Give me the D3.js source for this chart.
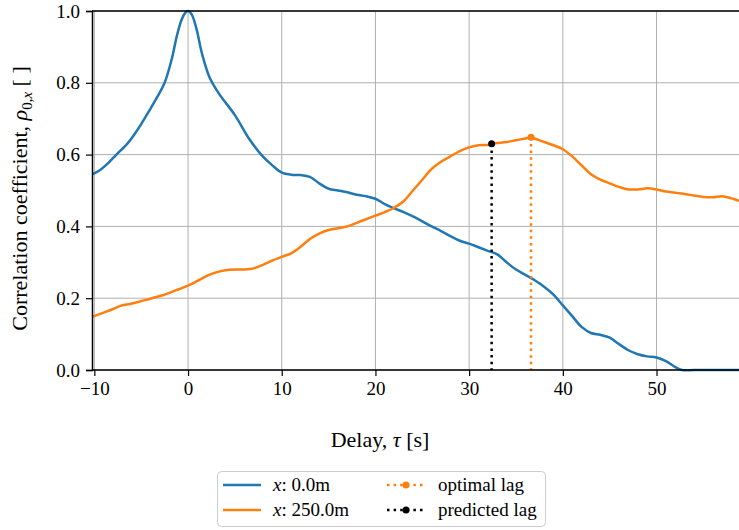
<!DOCTYPE html>
<html>
<head>
<meta charset="utf-8">
<script src="https://cdn.jsdelivr.net/npm/d3@7"></script>
<style>
  html, body { margin: 0; padding: 0; background: #fff; }
  svg { display: block; }
  text { font-family: "Liberation Serif", "Times New Roman", serif; fill: #000; }
</style>
</head>
<body>
<svg id="chart" width="739" height="530"></svg>
<script>
// Cross-correlation of the two measurement points against the delay
const tau0 = [-10.25, -9.5, -8.5, -7.65, -6.5, -5.9, -5, -4.1, -3.3, -2.5, -1.7, -1.2, -0.7, -0.3, 0,
  0.4, 0.9, 1.5, 2.3, 3.3, 5, 6.5, 7.8, 9, 10, 11, 12, 13, 14, 15, 16, 17, 18, 19, 20, 21, 22, 23,
  24, 25, 26, 27, 28, 29, 30, 31, 32, 33, 34, 35, 36, 37, 38, 39, 40, 41, 42, 43, 44, 45, 46, 47,
  48, 49, 50, 51, 52, 52.7, 54, 56, 58, 60];
const rho0 = [0.545, 0.555, 0.577, 0.60, 0.63, 0.65, 0.685, 0.724, 0.76, 0.80, 0.87, 0.93, 0.975, 0.995, 1.0,
  0.99, 0.95, 0.88, 0.815, 0.77, 0.71, 0.645, 0.60, 0.57, 0.55, 0.544, 0.543, 0.538, 0.52, 0.505, 0.50, 0.495, 0.488, 0.484, 0.477, 0.462, 0.45, 0.44,
  0.428, 0.414, 0.40, 0.387, 0.373, 0.36, 0.352, 0.342, 0.332, 0.322, 0.30, 0.28, 0.265, 0.25, 0.232, 0.21, 0.18, 0.15, 0.12, 0.103,
  0.098, 0.09, 0.072, 0.055, 0.044, 0.038, 0.035, 0.025, 0.008, 0, 0, 0, 0, 0];

const tau250 = [-10.25, -9, -8, -7.3, -6, -5, -4.1, -3, -2, -1, 0, 1, 2, 3, 4, 5, 6, 7, 8, 9, 10, 11, 12,
  13, 14, 15, 16, 17, 18, 19, 20, 21, 22, 23, 24, 25, 26, 27, 28, 29, 30, 31, 32, 32.4, 33, 34, 35, 36, 36.6,
  37, 38, 39, 40, 41, 42, 43, 44, 45, 46, 47, 48, 49, 50, 51, 52, 53, 54, 55, 56, 57, 58, 59, 60];
const rho250 = [0.148, 0.16, 0.17, 0.178, 0.185, 0.192, 0.198, 0.206, 0.215, 0.225, 0.235, 0.248, 0.262, 0.272, 0.278, 0.28, 0.28, 0.283, 0.293, 0.305, 0.315, 0.325, 0.343,
  0.365, 0.38, 0.39, 0.395, 0.40, 0.41, 0.42, 0.43, 0.44, 0.452, 0.47, 0.50, 0.53, 0.56, 0.58, 0.595, 0.61, 0.62, 0.626, 0.627, 0.63, 0.632, 0.635, 0.64, 0.645, 0.648,
  0.645, 0.635, 0.626, 0.615, 0.595, 0.57, 0.545, 0.53, 0.52, 0.51, 0.503, 0.503, 0.506, 0.503, 0.497, 0.494, 0.49, 0.486, 0.482, 0.481, 0.484, 0.478, 0.47, 0.465];

// Lags: the maximum of the far-point correlation and the model prediction
const optimalLag = { tau: 36.6, rho: 0.648 };
const predictedLag = { tau: 32.4, rho: 0.63 };

const xTicks = [-10, 0, 10, 20, 30, 40, 50];
const yTicks = [0.0, 0.2, 0.4, 0.6, 0.8, 1.0];
const seriesNames = ["x: 0.0m", "x: 250.0m"];
const lagNames = ["optimal lag", "predicted lag"];
const colors = { blue: "#1f77b4", orange: "#ff7f0e" };

const svg = d3.select("#chart");
const margin = { left: 92, top: 11, bottom: 160 };
const plotH = 530 - margin.top - margin.bottom;

const x = d3.scaleLinear().domain([-10.25, 60.25]).range([92, 92 + 70.5 * 9.37]);
const y = d3.scaleLinear().domain([0, 1]).range([margin.top + plotH, margin.top]);

const defs = svg.append("defs");
defs.append("clipPath").attr("id", "plotClip")
  .append("rect").attr("x", x.range()[0]).attr("y", y(1) - 3)
  .attr("width", x.range()[1] - x.range()[0]).attr("height", plotH + 6);

// grid
const grid = svg.append("g");
grid.selectAll(".vg").data(xTicks).join("line")
  .attr("x1", d => x(d)).attr("x2", d => x(d))
  .attr("y1", y(0)).attr("y2", y(1))
  .attr("stroke", "#b0b0b0").attr("stroke-width", 1);
grid.selectAll(".hg").data(yTicks).join("line")
  .attr("x1", x.range()[0]).attr("x2", x.range()[1])
  .attr("y1", d => y(d)).attr("y2", d => y(d))
  .attr("stroke", "#b0b0b0").attr("stroke-width", 1);

const plot = svg.append("g").attr("clip-path", "url(#plotClip)");
const line = d3.line().x(d => x(d[0])).y(d => y(d[1])).curve(d3.curveCatmullRom.alpha(0.5));

plot.append("path").datum(tau0.map((t, i) => [t, rho0[i]]))
  .attr("d", line).attr("fill", "none").attr("stroke", colors.blue).attr("stroke-width", 2.5);
plot.append("path").datum(tau250.map((t, i) => [t, rho250[i]]))
  .attr("d", line).attr("fill", "none").attr("stroke", colors.orange).attr("stroke-width", 2.5);

// lag markers with drop lines to zero
function lagMark(lag, color) {
  plot.append("line")
    .attr("x1", x(lag.tau)).attr("x2", x(lag.tau))
    .attr("y1", y(lag.rho)).attr("y2", y(0))
    .attr("stroke", color).attr("stroke-width", 2.5)
    .attr("stroke-dasharray", "2.5,4.1");
  plot.append("circle").attr("cx", x(lag.tau)).attr("cy", y(lag.rho))
    .attr("r", 3.5).attr("fill", color);
}
lagMark(optimalLag, colors.orange);
lagMark(predictedLag, "#000");

// axes
const xAxis = d3.axisBottom(x).tickValues(xTicks)
  .tickFormat(d => d < 0 ? "\u2212" + Math.abs(d) : d).tickSize(6).tickPadding(6);
const yAxis = d3.axisLeft(y).tickValues(yTicks)
  .tickFormat(d3.format(".1f")).tickSize(6).tickPadding(6);

const gx = svg.append("g").attr("transform", `translate(0,${y(0)})`).call(xAxis);
const gy = svg.append("g").attr("transform", `translate(${x.range()[0]},0)`).call(yAxis);
[gx, gy].forEach(g => {
  g.select(".domain").attr("stroke", "#000").attr("stroke-width", 1.5);
  g.selectAll(".tick line").attr("stroke", "#000").attr("stroke-width", 1.2);
  g.selectAll(".tick text").attr("font-family", "Liberation Serif").attr("font-size", 19).attr("fill", "#000");
});
gx.select(".domain").remove();
svg.append("line").attr("x1", x.range()[0]).attr("x2", 739).attr("y1", y(0)).attr("y2", y(0))
  .attr("stroke", "#000").attr("stroke-width", 1.5);
svg.append("line").attr("x1", x.range()[0]).attr("x2", 739).attr("y1", y(1)).attr("y2", y(1))
  .attr("stroke", "#000").attr("stroke-width", 1.5);

// axis titles
const xl = svg.append("text").attr("x", 380).attr("y", 447).attr("text-anchor", "middle").attr("font-size", 22);
xl.append("tspan").text("Delay, ");
xl.append("tspan").attr("font-style", "italic").text("\u03c4");
xl.append("tspan").text(" [s]");

const yl = svg.append("text").attr("transform", `translate(27,${(y(0) + y(1)) / 2 + 8}) rotate(-90)`)
  .attr("text-anchor", "middle").attr("font-size", 22);
yl.append("tspan").text("Correlation coefficient, ");
yl.append("tspan").attr("font-style", "italic").text("\u03c1");
yl.append("tspan").attr("font-size", 15).attr("dy", 5).text("0,");
yl.append("tspan").attr("font-size", 15).attr("font-style", "italic").text("x");
yl.append("tspan").attr("dy", -5).text(" [ ]");

// legend
const lg = svg.append("g");
lg.append("rect").attr("x", 217.5).attr("y", 471.5).attr("width", 328).attr("height", 55)
  .attr("rx", 4).attr("fill", "#fff").attr("stroke", "#cccccc").attr("stroke-width", 1);

function legendLabel(tx, ty, name) {
  const t = lg.append("text").attr("x", tx).attr("y", ty).attr("font-size", 19);
  const m = name.match(/^x: (.*)$/);
  if (m) {
    t.append("tspan").attr("font-style", "italic").text("x");
    t.append("tspan").text(": " + m[1]);
  } else {
    t.text(name);
  }
}
const rows = [485, 510];
[colors.blue, colors.orange].forEach((c, i) => {
  lg.append("line").attr("x1", 223).attr("x2", 261).attr("y1", rows[i]).attr("y2", rows[i])
    .attr("stroke", c).attr("stroke-width", 2.5);
  legendLabel(273, rows[i] + 6, seriesNames[i]);
});
[colors.orange, "#000"].forEach((c, i) => {
  lg.append("line").attr("x1", 387).attr("x2", 425).attr("y1", rows[i]).attr("y2", rows[i])
    .attr("stroke", c).attr("stroke-width", 2.5).attr("stroke-dasharray", "2.5,4.1");
  lg.append("circle").attr("cx", 406).attr("cy", rows[i]).attr("r", 3.5).attr("fill", c);
  legendLabel(438, rows[i] + 6, lagNames[i]);
});
</script>
</body>
</html>
